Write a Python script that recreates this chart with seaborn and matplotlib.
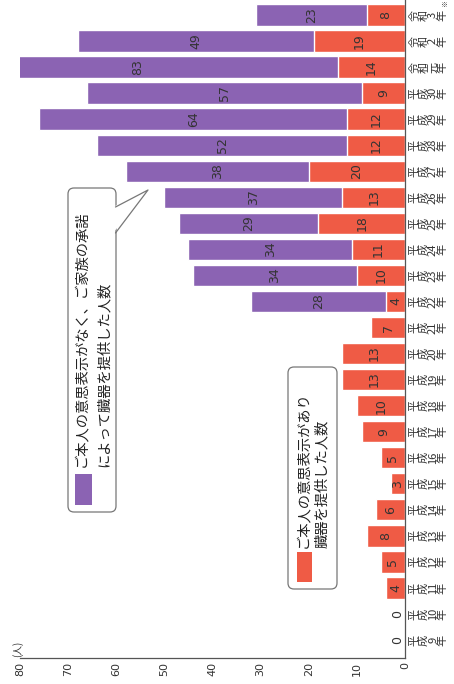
import re
import matplotlib
matplotlib.use("Agg")
import matplotlib.pyplot as plt
import seaborn as sns
import pandas as pd
from matplotlib.patches import FancyBboxPatch, Rectangle, Polygon

# ---------------- data ----------------
categories = ["平成9年", "平成10年", "平成11年", "平成12年", "平成13年", "平成14年",
              "平成15年", "平成16年", "平成17年", "平成18年", "平成19年", "平成20年",
              "平成21年", "平成22年", "平成23年", "平成24年", "平成25年", "平成26年",
              "平成27年", "平成28年", "平成29年", "平成30年", "令和元年", "令和2年", "令和3年"]
with_intent = [0, 0, 4, 5, 8, 6, 3, 5, 9, 10, 13, 13, 7, 4, 10, 11, 18, 13, 20, 12, 12, 9, 14, 19, 8]
family_consent = [0, 0, 0, 0, 0, 0, 0, 0, 0, 0, 0, 0, 0, 28, 34, 34, 29, 37, 38, 52, 64, 57, 83, 49, 23]
value_ticks = [0, 10, 20, 30, 40, 50, 60, 70, 80]
legend_family = ["ご本人の意思表示がなく、ご家族の承諾", "によって臓器を提供した人数"]
legend_intent = ["ご本人の意思表示があり", "臓器を提供した人数"]
unit_label = "(人)"

PURPLE = "#8b63b3"
RED = "#ef5b45"
TXT = "#333333"

sns.set_theme(style="white")
plt.rcParams["font.family"] = ["Noto Sans CJK JP", "DejaVu Sans"]

df = pd.DataFrame({"cat": categories, "intent": with_intent, "family": family_consent})
df["total"] = df["intent"] + df["family"]
order = categories[::-1]  # 令和3年 at top

W, H = 454, 684
fig = plt.figure(figsize=(W / 100, H / 100), dpi=100, facecolor="white")
ax = fig.add_axes([20 / W, 26 / H, 385 / W, 658 / H])

sns.barplot(data=df, x="total", y="cat", order=order, orient="h", color=PURPLE,
            saturation=1, width=0.82, ax=ax)
sns.barplot(data=df, x="intent", y="cat", order=order, orient="h", color=RED,
            saturation=1, width=0.82, ax=ax)

ax.set_xlim(80, 0)
ax.set_ylim(24.69, -0.576)
ax.set_xlabel("")
ax.set_ylabel("")

# value labels
for _, row in df.iterrows():
    ypos = order.index(row["cat"])
    r, p = row["intent"], row["family"]
    ax.text(max(r / 2, 1.5), ypos, str(r), rotation=90, ha="center", va="center",
            fontsize=9, color=TXT, family="DejaVu Sans")
    if p > 0:
        ax.text(r + p / 2, ypos, str(p), rotation=90, ha="center", va="center",
                fontsize=9, color=TXT, family="DejaVu Sans")

# value axis (bottom)
ax.set_xticks(value_ticks)
ax.set_xticklabels([str(v) for v in value_ticks], rotation=90, fontsize=8,
                   color=TXT, family="DejaVu Sans")
ax.tick_params(axis="x", length=0, pad=3)

# category axis (right), stacked vertical labels
def stack(label):
    return "\n".join(re.findall(r"\d+|.", label))

ax.yaxis.tick_right()
ax.set_yticks(range(len(order)))
ax.set_yticklabels([stack(c) for c in order], rotation=90, fontsize=8, color=TXT,
                   linespacing=0.92, multialignment="center", va="center", ha="left")
ax.tick_params(axis="y", length=0, pad=3)

for s in ["top", "left"]:
    ax.spines[s].set_visible(False)
for s in ["bottom", "right"]:
    ax.spines[s].set_color("#555555")
    ax.spines[s].set_linewidth(0.9)

ax.annotate("※", xy=(1, 0), xycoords=ax.get_yaxis_transform(), xytext=(29, 8),
            textcoords="offset points", fontsize=5, rotation=90, ha="center",
            va="center", color=TXT)

# ---------------- overlay (legend callouts) ----------------
ov = fig.add_axes([0, 0, 1, 1], zorder=5)
ov.set_xlim(0, W)
ov.set_ylim(H, 0)
ov.axis("off")
ov.patch.set_alpha(0)

fig.text(18 / W, 1 - 649 / H, unit_label, rotation=90, ha="center", va="center",
         fontsize=7, color=TXT)

def box(x0, y0, x1, y1):
    ov.add_patch(FancyBboxPatch((x0, y0), x1 - x0, y1 - y0,
                                boxstyle="round,pad=0,rounding_size=6",
                                facecolor="white", edgecolor="#777777", lw=0.9))

# box 1: family consent (purple)
box(68, 188, 116, 512)
ov.add_patch(Polygon([(113, 207), (148, 190), (113, 233)], closed=True,
                     facecolor="white", edgecolor="none", zorder=3))
ov.plot([115.5, 148, 115.5], [207, 190, 233], color="#777777", lw=0.9, zorder=4)
ov.add_patch(Rectangle((75, 474), 17, 31, facecolor=PURPLE, edgecolor="none"))
ov.text(81, 467, legend_family[0], rotation=90, ha="center", va="bottom",
        fontsize=10.3, color="#222222")
ov.text(104, 467, legend_family[1], rotation=90, ha="center", va="bottom",
        fontsize=10.3, color="#222222")

# box 2: own intent (red)
box(288, 367, 337, 589)
ov.add_patch(Rectangle((297, 552), 15, 30, facecolor=RED, edgecolor="none"))
ov.text(303, 548, legend_intent[0], rotation=90, ha="center", va="bottom",
        fontsize=10.3, color="#222222")
ov.text(322, 548, legend_intent[1], rotation=90, ha="center", va="bottom",
        fontsize=10.3, color="#222222")

fig.savefig("out.png", dpi=100, facecolor="white")
